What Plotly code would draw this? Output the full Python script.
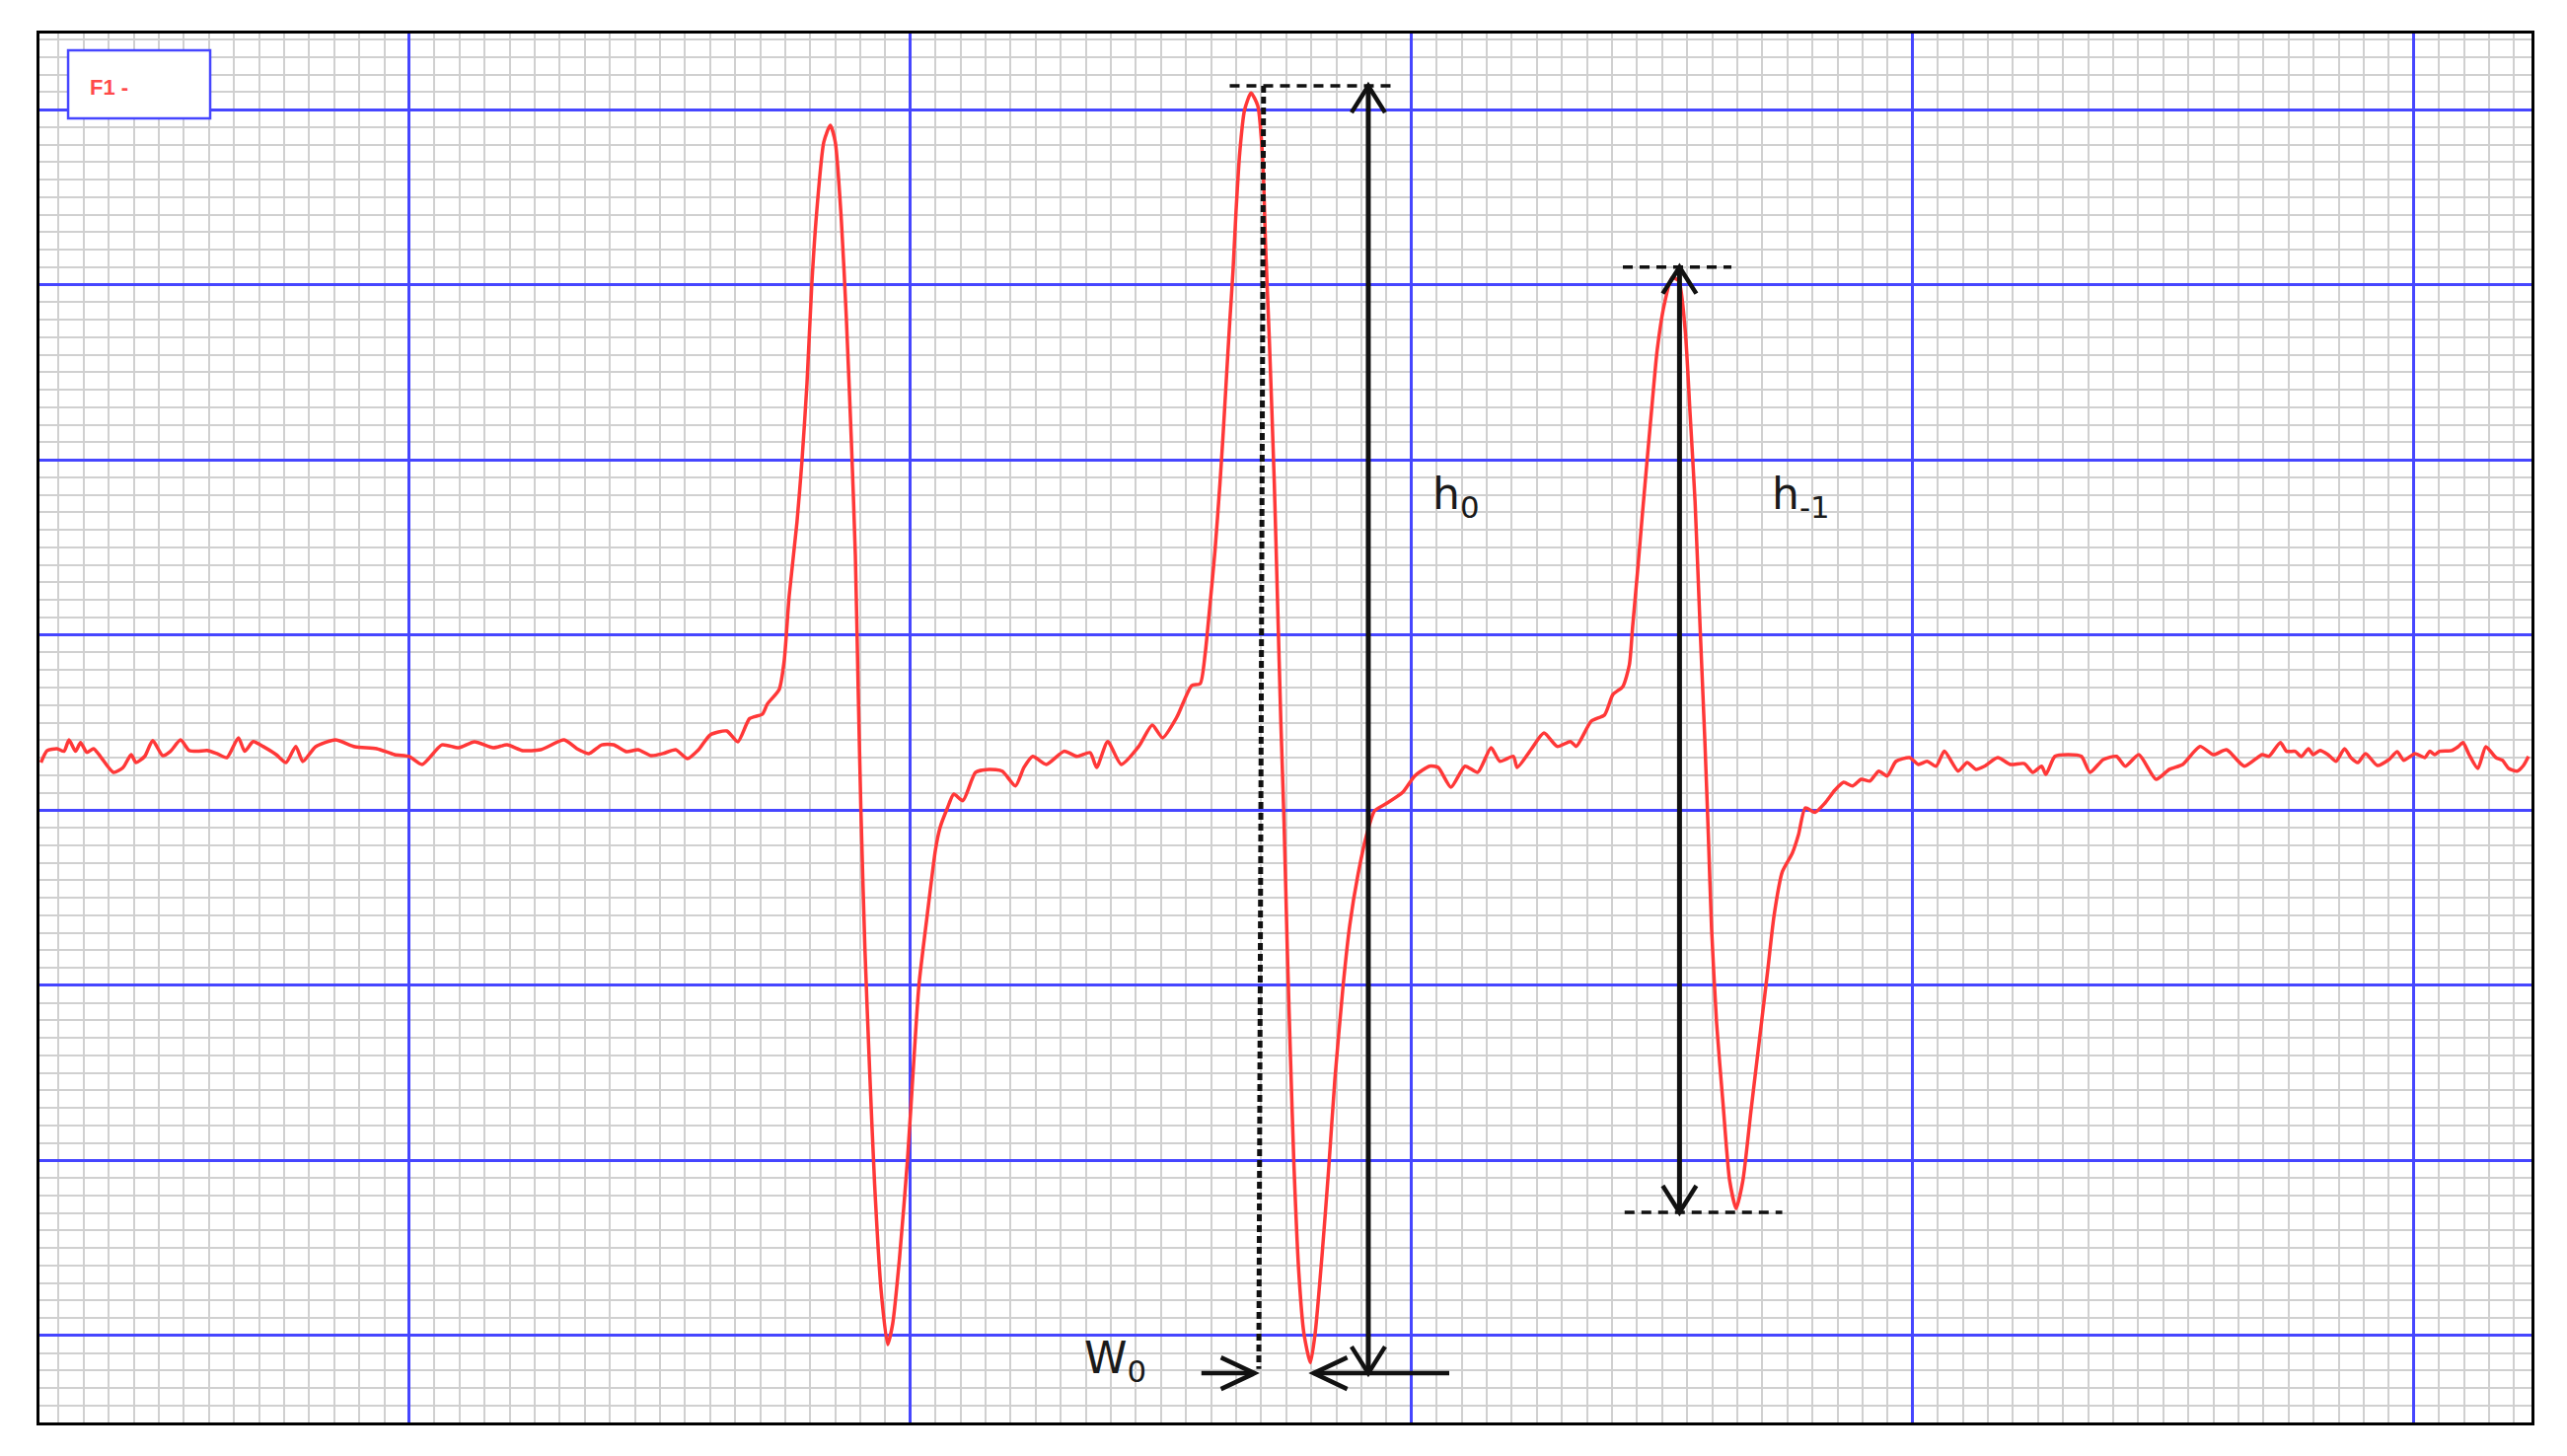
import plotly.graph_objects as go

# EPR spectrum (nitroxide triplet), x in minor chart divisions, y in minor divisions
field = [
    5.30, 5.55, 5.94, 6.22, 6.42, 6.68, 6.88, 7.13, 7.40, 7.67,
    8.19, 8.58, 8.90, 9.09, 9.44, 9.76, 10.16, 10.47, 10.87, 11.21,
    11.54, 11.93, 12.32, 12.72, 13.18, 13.43, 13.77, 14.16, 14.69, 15.08,
    15.47, 15.75, 16.26, 17.05, 17.83, 18.70, 19.41, 20.00, 20.51, 21.30,
    21.97, 22.60, 23.35, 23.90, 24.53, 25.24, 26.18, 26.69, 27.17, 27.68,
    28.15, 28.66, 29.13, 29.65, 30.12, 30.63, 31.10, 31.54, 32.01, 32.67,
    33.11, 33.58, 34.09, 34.29, 34.76, 34.96, 35.16, 35.47, 35.67, 35.87,
    36.06, 36.26, 36.54, 36.80, 37.00, 37.24, 37.44, 37.64, 37.80, 37.91,
    38.02, 38.18, 38.37, 38.57, 38.83, 39.09, 39.29, 39.56, 39.88, 40.15,
    40.34, 40.67, 41.00, 41.18, 41.46, 41.73, 42.09, 42.60, 43.14, 43.66,
    44.19, 44.53, 44.88, 45.42, 46.13, 46.65, 47.17, 47.43, 47.87, 48.41,
    49.11, 49.65, 50.06, 50.63, 51.22, 51.56, 51.76, 51.96, 52.15, 52.35,
    52.48, 52.60, 52.74, 52.87, 52.99, 53.14, 53.33, 53.59, 53.86, 54.06,
    54.17, 54.32, 54.52, 54.65, 54.78, 54.91, 55.04, 55.17, 55.30, 55.50,
    55.70, 55.96, 56.15, 56.42, 56.68, 56.94, 57.27, 57.53, 57.86, 58.19,
    58.52, 58.96, 59.65, 60.12, 60.71, 61.06, 61.57, 62.13, 62.64, 63.17,
    63.52, 64.06, 64.21, 64.76, 65.28, 65.81, 66.34, 66.57, 67.17, 67.70,
    68.03, 68.43, 68.69, 68.82, 69.02, 69.21, 69.41, 69.61, 69.80, 70.07,
    70.39, 70.66, 70.92, 71.11, 71.31, 71.51, 71.70, 71.84, 71.97, 72.17,
    72.43, 72.69, 72.95, 73.22, 73.54, 73.87, 74.20, 74.46, 74.79, 75.19,
    75.44, 75.71, 76.10, 76.50, 76.89, 77.24, 77.60, 77.94, 78.29, 78.64,
    78.98, 79.33, 79.87, 80.22, 80.57, 80.93, 81.26, 81.81, 82.17, 82.52,
    82.86, 83.39, 83.90, 84.45, 84.79, 85.14, 85.31, 85.67, 86.20, 86.73,
    87.07, 87.60, 88.13, 88.48, 89.02, 89.71, 90.24, 90.77, 91.46, 92.00,
    92.52, 93.23, 93.94, 94.21, 94.67, 94.92, 95.26, 95.51, 95.79, 95.98,
    96.25, 96.57, 96.89, 97.23, 97.48, 97.76, 98.07, 98.54, 99.00, 99.33,
    99.59, 100.04, 100.43, 100.63, 100.83, 101.02, 101.50, 101.76, 101.96, 102.20,
    102.55, 102.87, 103.27, 103.53, 103.78, 104.12, 104.37, 104.57,
]
signal = [
    32.72, 33.40, 33.51, 33.36, 34.01, 33.36, 33.86, 33.30, 33.51, 33.07,
    32.16, 32.44, 33.17, 32.72, 33.07, 33.97, 33.11, 33.36, 34.01, 33.41,
    33.36, 33.41, 33.23, 33.00, 34.13, 33.36, 33.92, 33.64, 33.17, 32.72,
    33.64, 32.78, 33.62, 34.01, 33.62, 33.51, 33.17, 33.06, 32.61, 33.73,
    33.56, 33.90, 33.56, 33.73, 33.40, 33.45, 34.01, 33.51, 33.23, 33.73,
    33.73, 33.34, 33.45, 33.11, 33.23, 33.45, 32.94, 33.45, 34.30, 34.52,
    33.90, 35.23, 35.48, 36.06, 36.89, 38.52, 42.24, 46.43, 49.95, 54.37,
    59.98, 64.20, 68.14, 69.10, 68.14, 63.71, 58.12, 51.11, 44.57, 37.11,
    30.09, 22.15, 15.15, 8.62, 2.53, -0.51, 0.68, 4.39, 10.02, 16.08,
    20.05, 24.02, 27.76, 29.00, 30.07, 30.92, 30.54, 32.16, 32.33, 32.23,
    31.38, 32.44, 33.07, 32.61, 33.36, 33.07, 33.28, 32.44, 33.92, 32.61,
    33.64, 34.86, 34.13, 35.31, 37.11, 37.22, 38.93, 41.84, 44.77, 48.63,
    51.54, 54.46, 57.84, 60.76, 64.14, 67.54, 69.96, 70.94, 70.22, 67.07,
    62.23, 56.88, 48.63, 41.84, 35.06, 29.23, 21.96, 15.66, 9.86, 3.55,
    0.14, -1.55, 0.14, 4.51, 9.35, 14.70, 20.05, 23.43, 26.33, 28.51,
    29.96, 30.35, 31.03, 31.95, 32.51, 32.44, 31.31, 32.51, 32.16, 33.56,
    32.79, 33.07, 32.44, 33.45, 34.41, 33.64, 33.92, 33.64, 35.08, 35.44,
    36.60, 37.06, 38.31, 40.49, 43.70, 46.93, 50.18, 53.40, 56.27, 58.79,
    60.40, 60.22, 57.35, 52.68, 47.64, 40.49, 34.01, 28.61, 23.23, 17.85,
    13.18, 8.86, 7.26, 8.86, 12.81, 16.78, 20.72, 23.95, 26.47, 27.54,
    28.61, 30.13, 29.88, 30.41, 31.14, 31.59, 31.38, 31.76, 31.66, 32.23,
    31.95, 32.79, 33.00, 32.61, 32.79, 32.51, 33.36, 32.23, 32.72, 32.33,
    32.51, 33.00, 32.61, 32.66, 32.16, 32.51, 32.04, 33.07, 33.17, 33.07,
    32.16, 32.89, 33.07, 32.51, 33.17, 31.76, 32.33, 32.61, 33.64, 33.17,
    33.45, 32.51, 33.17, 33.07, 33.86, 33.36, 33.36, 33.06, 33.51, 33.17,
    33.41, 33.17, 32.79, 33.51, 33.00, 32.72, 33.23, 32.55, 32.89, 33.34,
    32.85, 33.23, 33.00, 33.36, 33.17, 33.36, 33.40, 33.62, 33.86, 33.17,
    32.38, 33.62, 33.00, 32.85, 32.38, 32.23, 32.55, 33.07,
]

# measurement markers (data coordinates)
h0_x, h0_top, h0_bottom = 58.27, 71.35, -2.15
h1_x, h1_top, h1_bottom = 70.69, 61.01, 7.04
w0_left, w0_right = 53.73, 56.09

BLUE = "#4646ff"
GRAY = "#d0d0d0"
RED = "#ff3838"
INK = "#111111"

fig = go.Figure()
fig.add_trace(go.Scatter(
    x=field, y=signal, mode="lines",
    line=dict(color=RED, width=3.5, shape="spline", smoothing=0.6),
    hoverinfo="skip", showlegend=False
))


def seg(x0, y0, x1, y1, width=5, dash=None):
    fig.add_shape(type="line", xref="x", yref="y", x0=x0, y0=y0, x1=x1, y1=y1,
                  line=dict(color=INK, width=width, dash=dash))


def head(xt, yt, dx, dy, width=4.5):
    # open "V" arrow head; dx, dy are the barb offsets from the tip
    fig.add_shape(type="path", xref="x", yref="y",
                  path=f"M {xt + dx[0]},{yt + dy[0]} L {xt},{yt} L {xt + dx[1]},{yt + dy[1]}",
                  line=dict(color=INK, width=width))


# h0 arrow
seg(52.74, h0_top, 59.25, h0_top, width=3.5, dash="10px,7px")
seg(h0_x, h0_top, h0_x, h0_bottom)
head(h0_x, h0_top, (-0.67, 0.67), (-1.52, -1.52))
head(h0_x, h0_bottom, (-0.67, 0.67), (1.52, 1.52))
seg(w0_right, h0_bottom, 61.50, h0_bottom, width=4.5)

# W0 width marker
seg(54.09, h0_top, 53.90, -1.91, width=5, dash="7px,4px")
seg(51.61, h0_bottom, w0_left, h0_bottom, width=4.5)
head(w0_left, h0_bottom, (-1.34, -1.34), (0.9, -0.9))
head(w0_right, h0_bottom, (1.34, 1.34), (0.9, -0.9))

# h-1 arrow
seg(68.43, h1_top, 72.76, h1_top, width=3.5, dash="10px,7px")
seg(68.50, h1_bottom, 74.79, h1_bottom, width=3.5, dash="10px,7px")
seg(h1_x, h1_top, h1_x, h1_bottom)
head(h1_x, h1_top, (-0.67, 0.67), (-1.52, -1.52))
head(h1_x, h1_bottom, (-0.67, 0.67), (1.52, 1.52))

label_font = dict(family="DejaVu Sans", size=44, color="#1a1a1a")
fig.add_annotation(x=60.75, y=47.9, text="h<sub>0</sub>", showarrow=False,
                   xanchor="left", yanchor="middle", font=label_font)
fig.add_annotation(x=74.30, y=47.9, text="h<sub>-1</sub>", showarrow=False,
                   xanchor="left", yanchor="middle", font=label_font)
fig.add_annotation(x=46.85, y=-1.45, text="W<sub>0</sub>", showarrow=False,
                   xanchor="left", yanchor="middle", font=label_font)

# "F1 -" tag box
fig.add_shape(type="rect", xref="paper", yref="paper", x0=0.0115, x1=0.0685, y0=0.939, y1=0.988,
              fillcolor="white", line=dict(color=BLUE, width=2.5))
fig.add_annotation(xref="paper", yref="paper", x=0.0194, y=0.9616, text="<b>F1 -</b>",
                   showarrow=False, xanchor="left", yanchor="middle",
                   font=dict(family="Liberation Sans", size=22, color="#ff4a4a"))

axis_common = dict(
    showgrid=True, gridcolor=BLUE, gridwidth=2.5,
    showticklabels=False, ticks="", zeroline=False,
    showline=True, linecolor="black", linewidth=3, mirror=True,
)
# the page body adds an 8px margin, so the figure is 16px smaller than the window
fig.update_layout(
    width=2586, height=1460,
    margin=dict(l=32, r=28, t=26, b=26),
    paper_bgcolor="white", plot_bgcolor="white",
    showlegend=False,
    xaxis=dict(range=[5.24, 104.69], tick0=0, dtick=20,
               minor=dict(tick0=0, dtick=1, showgrid=True, gridcolor=GRAY, gridwidth=2),
               **axis_common),
    yaxis=dict(range=[-4.96, 74.34], tick0=0, dtick=10,
               minor=dict(tick0=0, dtick=1, showgrid=True, gridcolor=GRAY, gridwidth=2),
               **axis_common),
)

fig.write_html("out.html")
